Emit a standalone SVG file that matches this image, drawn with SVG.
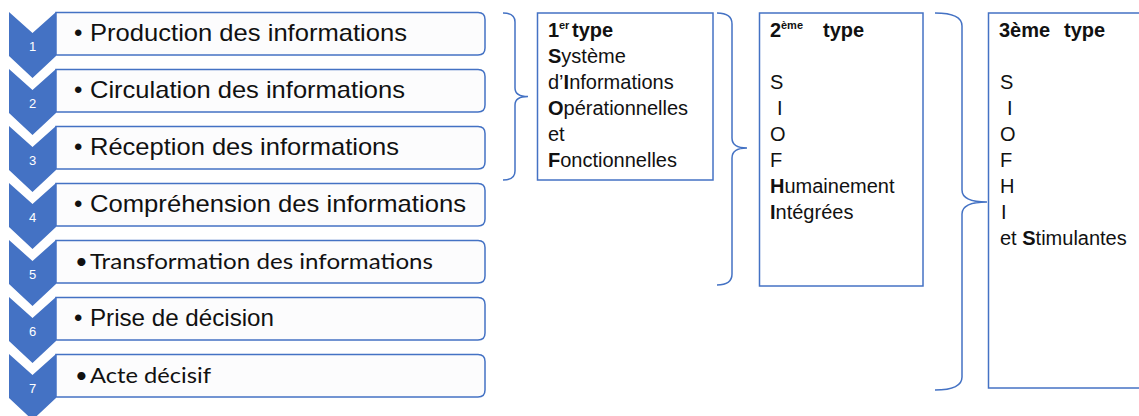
<svg xmlns="http://www.w3.org/2000/svg" width="1139" height="416" viewBox="0 0 1139 416">
<style>
.chev{fill:#4472C4;}
.num{font-family:"Liberation Sans",Arial,sans-serif;font-size:13px;fill:#ffffff;text-anchor:middle;}
.box{fill:#fcfcfd;stroke:#4472C4;stroke-width:1.5;}
.lt{font-family:"Liberation Sans",Arial,sans-serif;font-size:24px;fill:#111;}
.lc{font-family:Lato,"Open Sans",sans-serif;font-size:22px;fill:#111;}
.tb{fill:#ffffff;stroke:#4472C4;stroke-width:1.5;}
.br{fill:none;stroke:#4472C4;stroke-width:1.5;}
.t{font-family:"Liberation Sans",Arial,sans-serif;font-size:20px;fill:#111;}
.b{font-weight:bold;}
.sup{font-size:11px;font-weight:bold;}
</style>
<rect width="1139" height="416" fill="#ffffff"/>
<g id="step1">
<path class="chev" d="M9,12 L32.5,33 L56,12 L56,56 L32.5,78 L9,56 Z"/>
<text class="num" x="32.5" y="51">1</text>
<path class="box" d="M56,12.5 H478 Q485,12.5 485,19.5 V48 Q485,55 478,55 H56 Z"/>
<text class="lt" x="74" y="41">•</text>
<text class="lt" x="90" y="41" textLength="317" lengthAdjust="spacingAndGlyphs">Production des informations</text>
</g>
<g id="step2">
<path class="chev" d="M9,69 L32.5,90 L56,69 L56,113 L32.5,135 L9,113 Z"/>
<text class="num" x="32.5" y="108">2</text>
<path class="box" d="M56,69.5 H478 Q485,69.5 485,76.5 V105 Q485,112 478,112 H56 Z"/>
<text class="lt" x="74" y="98">•</text>
<text class="lt" x="90" y="98" textLength="315" lengthAdjust="spacingAndGlyphs">Circulation des informations</text>
</g>
<g id="step3">
<path class="chev" d="M9,126 L32.5,147 L56,126 L56,170 L32.5,192 L9,170 Z"/>
<text class="num" x="32.5" y="165">3</text>
<path class="box" d="M56,126.5 H478 Q485,126.5 485,133.5 V162 Q485,169 478,169 H56 Z"/>
<text class="lt" x="74" y="155">•</text>
<text class="lt" x="90" y="155" textLength="309" lengthAdjust="spacingAndGlyphs">Réception des informations</text>
</g>
<g id="step4">
<path class="chev" d="M9,183 L32.5,204 L56,183 L56,227 L32.5,249 L9,227 Z"/>
<text class="num" x="32.5" y="222">4</text>
<path class="box" d="M56,183.5 H478 Q485,183.5 485,190.5 V219 Q485,226 478,226 H56 Z"/>
<text class="lt" x="74" y="212">•</text>
<text class="lt" x="90" y="212" textLength="376" lengthAdjust="spacingAndGlyphs">Compréhension des informations</text>
</g>
<g id="step5">
<path class="chev" d="M9,240 L32.5,261 L56,240 L56,284 L32.5,306 L9,284 Z"/>
<text class="num" x="32.5" y="279">5</text>
<path class="box" d="M56,240.5 H478 Q485,240.5 485,247.5 V276 Q485,283 478,283 H56 Z"/>
<text class="lc" x="75" y="269">•</text>
<text class="lc" x="90" y="269" textLength="343" lengthAdjust="spacingAndGlyphs">Transformation des informations</text>
</g>
<g id="step6">
<path class="chev" d="M9,297 L32.5,318 L56,297 L56,341 L32.5,363 L9,341 Z"/>
<text class="num" x="32.5" y="336">6</text>
<path class="box" d="M56,297.5 H478 Q485,297.5 485,304.5 V333 Q485,340 478,340 H56 Z"/>
<text class="lt" x="74" y="326">•</text>
<text class="lt" x="90" y="326" textLength="184" lengthAdjust="spacingAndGlyphs">Prise de décision</text>
</g>
<g id="step7">
<path class="chev" d="M9,354 L32.5,375 L56,354 L56,398 L32.5,420 L9,398 Z"/>
<text class="num" x="32.5" y="393">7</text>
<path class="box" d="M56,354.5 H478 Q485,354.5 485,361.5 V390 Q485,397 478,397 H56 Z"/>
<text class="lc" x="75" y="383">•</text>
<text class="lc" x="90" y="383" textLength="121" lengthAdjust="spacingAndGlyphs">Acte décisif</text>
</g>
<g id="connectors">
<path class="br" d="M503,13 Q515,13 515,22 V88 Q515,96.5 528,96.5 Q515,96.5 515,105 V171 Q515,180 503,180"/>
<path class="br" d="M717,13 Q732,13 732,24 V138 Q732,148 747,148 Q732,148 732,158 V274 Q732,285 717,285"/>
<path class="br" d="M935,13 Q962,13 962,26 V190 Q962,202 987,202 Q962,202 962,214 V377 Q962,390 935,390"/>
</g>
<g id="type1">
<rect class="tb" x="537.5" y="13" width="175.5" height="167"/>
<text class="t b" x="548" y="37">1</text>
<text class="t sup" x="559" y="29">er</text>
<text class="t b" x="572" y="37">type</text>
<text class="t" x="548" y="63"><tspan class="b">S</tspan>ystème</text>
<text class="t" x="548" y="89">d’<tspan class="b">I</tspan>nformations</text>
<text class="t" x="548" y="115"><tspan class="b">O</tspan>pérationnelles</text>
<text class="t" x="548" y="141">et</text>
<text class="t" x="548" y="167"><tspan class="b">F</tspan>onctionnelles</text>
</g>
<g id="type2">
<rect class="tb" x="759.5" y="13" width="163.5" height="273"/>
<text class="t b" x="770" y="37">2</text>
<text class="t sup" x="781" y="29">ème</text>
<text class="t b" x="823" y="37">type</text>
<text class="t" x="770" y="89">S</text>
<text class="t" x="777" y="115">I</text>
<text class="t" x="770" y="141">O</text>
<text class="t" x="770" y="167">F</text>
<text class="t" x="770" y="193"><tspan class="b">H</tspan>umainement</text>
<text class="t" x="770" y="219"><tspan class="b">I</tspan>ntégrées</text>
</g>
<g id="type3">
<rect class="tb" x="988.5" y="13" width="170" height="375"/>
<text class="t b" x="999" y="37">3ème</text>
<text class="t b" x="1064" y="37">type</text>
<text class="t" x="1000" y="89">S</text>
<text class="t" x="1007" y="115">I</text>
<text class="t" x="1000" y="141">O</text>
<text class="t" x="1000" y="167">F</text>
<text class="t" x="1000" y="193">H</text>
<text class="t" x="1001" y="219">I</text>
<text class="t" x="1000" y="245">et <tspan class="b">S</tspan>timulantes</text>
</g>
</svg>
